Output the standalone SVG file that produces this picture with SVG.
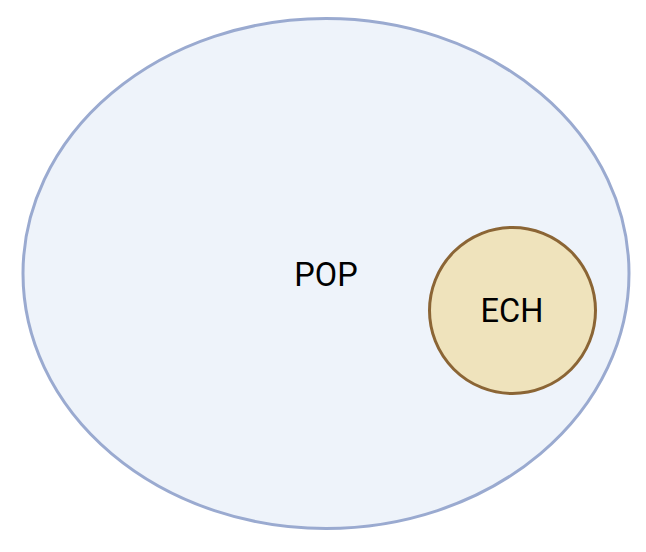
<svg xmlns="http://www.w3.org/2000/svg" width="646" height="552" viewBox="0 0 646 552">
<style>
.lbl{font-family:Roboto,"Liberation Sans",sans-serif;font-size:32.5px;fill:#000;text-anchor:middle}
</style>
<rect width="646" height="552" fill="#fff"/>
<g id="POP">
<ellipse cx="326" cy="273.5" rx="303" ry="255" fill="#EEF3FA" stroke="#9AAAD0" stroke-width="3"/>
<text class="lbl" x="326" y="285.5">POP</text>
</g>
<g id="ECH">
<circle cx="512.5" cy="310.5" r="83" fill="#EFE3BC" stroke="#8B6535" stroke-width="3"/>
<text class="lbl" x="512" y="322">ECH</text>
</g>
<g id="connectors"></g>
</svg>
